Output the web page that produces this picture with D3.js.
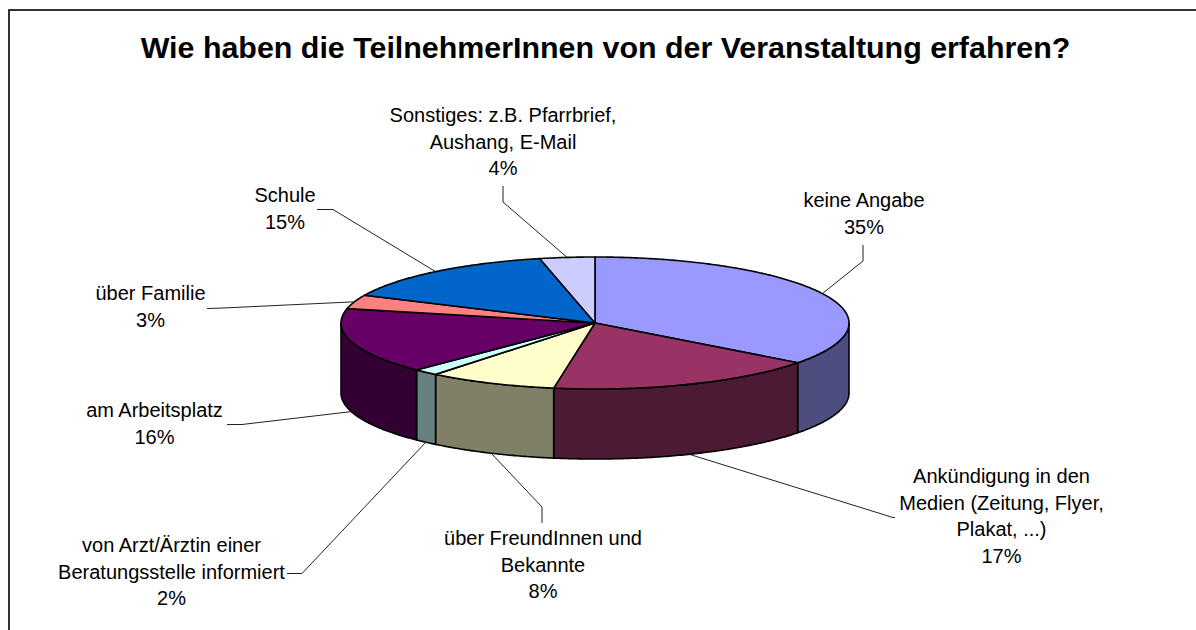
<!DOCTYPE html>
<html><head><meta charset="utf-8">
<script src="https://cdn.jsdelivr.net/npm/d3@7/dist/d3.min.js"></script>
<style>html,body{margin:0;padding:0;background:#fff;overflow:hidden}svg{display:block}text{font-family:"Liberation Sans",Arial,sans-serif;fill:#000}</style>
</head><body><svg id="c" width="1196" height="630"></svg>
<script>
const titleText = "Wie haben die TeilnehmerInnen von der Veranstaltung erfahren?";
const categories = [
  ["keine Angabe"],
  ["Ankündigung in den","Medien (Zeitung, Flyer,","Plakat, ...)"],
  ["über FreundInnen und","Bekannte"],
  ["von Arzt/Ärztin einer","Beratungsstelle informiert"],
  ["am Arbeitsplatz"],
  ["über Familie"],
  ["Schule"],
  ["Sonstiges: z.B. Pfarrbrief,","Aushang, E-Mail"]
];
const values = [35.3,17.3,8.2,1.6,16.1,3.4,14.6,3.5];
const topColors  = ["#9999FF","#993366","#FFFFCC","#CCFFFF","#660066","#FF8080","#0066CC","#CCCCFF"];
const sideColors = ["#4D4D80","#4D1A33","#808066","#668080","#330033","#804040","#003366","#666680"];

// layout only
const cx=595, cy=323, rx=254, ry=66, depth=70;
const labelCentre = [[864,207],[1001.5,483],[543,545],[171.5,552],[154.5,417],[150.5,300],[285,202],[503,122]];
const lineH = 26.6;
// leader elbow points, from the label to the pie edge
const leaderStart = [
  [[863,245],[863,261]],
  [[895,517.5],[893,517.5]],
  [[542,523],[542,507]],
  [[287,573.5],[302,573.5]],
  [[227,424.5],[242,424.5]],
  [[207,308.5],[223,308]],
  [[317,209.5],[333,209.5]],
  [[503,186],[503,202]]
];

const svg=d3.select("#c");
svg.append("rect").attr("x",9).attr("y",10).attr("width",1300).attr("height",700)
  .attr("fill","#fff").attr("stroke","#000").attr("stroke-width",1.6);
svg.append("text").attr("x",605.5).attr("y",58).attr("text-anchor","middle")
  .attr("font-size",30.4).attr("font-weight","bold").text(titleText);

const arcs=d3.pie().sort(null).startAngle(0).endAngle(2*Math.PI)(values);
const pt=(a,dy=0)=>[cx+rx*Math.sin(a),cy-ry*Math.cos(a)+dy];
const samples=(a0,a1,dy=0)=>{
  const n=Math.max(2,Math.ceil((a1-a0)/0.01));
  return d3.range(n+1).map(i=>pt(a0+(a1-a0)*i/n,dy));
};
const line=d3.line();
const PI=Math.PI;

// side walls
const pie=svg.append("g").attr("stroke","#000").attr("stroke-width",1.6).attr("stroke-linejoin","round");
arcs.forEach((d,i)=>{
  const a0=Math.max(d.startAngle,PI/2), a1=Math.min(d.endAngle,3*PI/2);
  if(a1<=a0) return;
  const top=samples(a0,a1), bottom=samples(a0,a1,depth).reverse();
  pie.append("path").attr("d",line(top.concat(bottom))+"Z").attr("fill",sideColors[i]);
});
// top faces
arcs.forEach((d,i)=>{
  pie.append("path").attr("d",line([[cx,cy]].concat(samples(d.startAngle,d.endAngle)))+"Z").attr("fill",topColors[i]);
});

// leaders
const leaders=svg.append("g").attr("fill","none").attr("stroke","#222").attr("stroke-width",1);
arcs.forEach((d,i)=>{
  const m=(d.startAngle+d.endAngle)/2;
  const front=Math.cos(m)<0;
  const end=pt(m,front?depth:0);
  leaders.append("path").attr("d",line(leaderStart[i].concat([end])));
});

// labels
const lab=svg.append("g").attr("font-size",20).attr("text-anchor","middle").attr("fill","#111");
categories.forEach((c,i)=>{
  const rows=c.concat([Math.round(values[i])+"%"]);
  rows.forEach((r,j)=>{
    lab.append("text").attr("x",labelCentre[i][0]).attr("y",labelCentre[i][1]+j*lineH).text(r);
  });
});
</script></body></html>
